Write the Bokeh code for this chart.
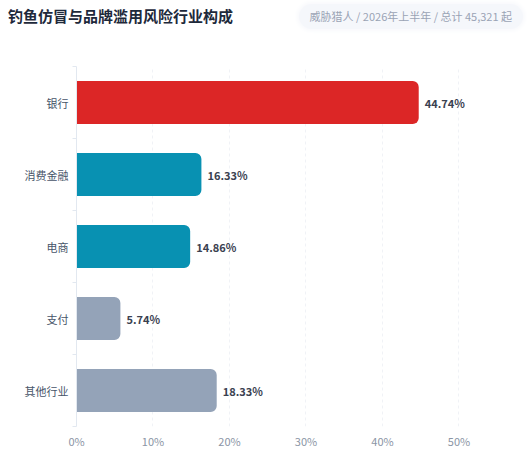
from bokeh.plotting import figure
from bokeh.layouts import column
from bokeh.models import Range1d, FixedTicker, ColumnDataSource, LabelSet, Div
from bokeh.core.properties import value
from bokeh.embed import file_html
from bokeh.resources import INLINE

categories = ["银行", "消费金融", "电商", "支付", "其他行业"]
shares = [44.74, 16.33, 14.86, 5.74, 18.33]
colors = ["#dc2626", "#0891b2", "#0891b2", "#94a3b8", "#94a3b8"]
x_ticks = [0, 10, 20, 30, 40, 50]
title_text = "钓鱼仿冒与品牌滥用风险行业构成"
subtitle_text = "威胁猎人 / 2026年上半年 / 总计 45,321 起"

CJK = "Noto Sans CJK SC"
n = len(categories)
ypos = [n - i - 0.5 for i in range(n)]
XMAX = 57
W = 527
HEAD_H = 40

# ---- header (title + subtitle pill) ----
header_html = f"""
<div style="position:relative;width:{W}px;height:{HEAD_H}px;font-family:'{CJK}',sans-serif;">
  <div style="position:absolute;left:8px;top:16px;transform:translateY(-50%);
              font-size:15px;font-weight:bold;color:#1e293b;line-height:20px;white-space:nowrap;">{title_text}</div>
  <div style="position:absolute;right:4px;top:4px;padding:5px 11px;border-radius:13px;
              background:#f5f7fb;box-shadow:0 0 4px 2px #f8f9fc;font-size:11px;color:#9aa3b5;
              line-height:15px;white-space:nowrap;">{subtitle_text}</div>
</div>
"""
h = Div(text=header_html, width=W, height=HEAD_H, margin=(0, 0, 0, 0))

# ---- main chart ----
src = ColumnDataSource(dict(
    y=ypos, v=shares, c=colors,
    lab=[f"{s:.2f}%" for s in shares],
))

p = figure(width=W, height=456 - HEAD_H, output_backend="svg", toolbar_location=None,
           x_range=Range1d(0, XMAX), y_range=Range1d(0, n),
           min_border_left=76, min_border_right=15, min_border_top=66 - HEAD_H,
           min_border_bottom=30, margin=(0, 0, 0, 0))
p.outline_line_color = None
p.background_fill_color = "white"
p.border_fill_color = "white"

p.hbar(y="y", right="v", left=0, height=0.6, fill_color="c", line_color=None,
       border_radius=(0, 6, 6, 0), source=src)

p.add_layout(LabelSet(x="v", y="y", text="lab", source=src, x_offset=6,
                      text_baseline="middle", text_align="left",
                      text_font=value(CJK), text_font_size="11px", text_font_style="bold",
                      text_color="#3a4150"))

# x axis
p.xaxis.ticker = FixedTicker(ticks=x_ticks)
p.xaxis.major_label_overrides = {t: f"{t}%" for t in x_ticks}
p.xaxis.axis_line_color = None
p.xaxis.major_tick_line_color = None
p.xaxis.minor_tick_line_color = None
p.xaxis.major_tick_out = 0
p.xaxis.minor_tick_out = 0
p.xaxis.major_label_text_font = CJK
p.xaxis.major_label_text_font_size = "11px"
p.xaxis.major_label_text_color = "#8b95a5"
p.xaxis.major_label_standoff = 6
p.xgrid.ticker = FixedTicker(ticks=x_ticks)
p.xgrid.grid_line_color = "#f0f2f6"
p.xgrid.grid_line_dash = "3 3"

# y axis
p.yaxis.ticker = FixedTicker(ticks=ypos, minor_ticks=list(range(n + 1)))
p.yaxis.major_label_overrides = {y: c for y, c in zip(ypos, categories)}
p.yaxis.axis_line_color = "#e2e8f0"
p.yaxis.major_tick_line_color = None
p.yaxis.major_tick_out = 0
p.yaxis.major_tick_in = 0
p.yaxis.minor_tick_line_color = "#e2e8f0"
p.yaxis.minor_tick_out = 4
p.yaxis.minor_tick_in = 0
p.yaxis.major_label_text_font = CJK
p.yaxis.major_label_text_font_size = "11px"
p.yaxis.major_label_text_color = "#475569"
p.yaxis.major_label_standoff = 4
p.ygrid.grid_line_color = None

layout = column(h, p, spacing=0)
open("out.html", "w").write(file_html(layout, INLINE))
